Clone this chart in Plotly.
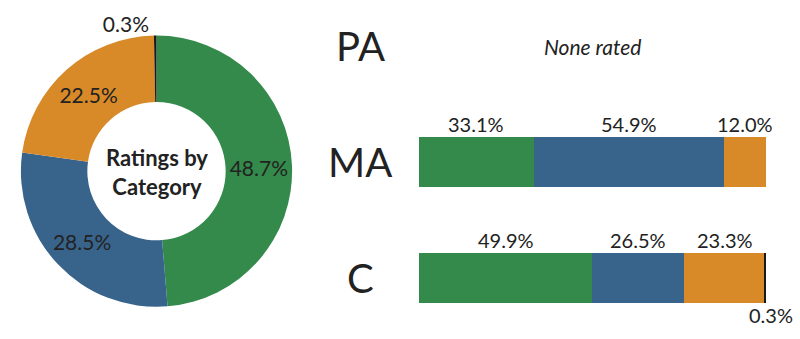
import plotly.graph_objects as go

# Overall rating shares
ratings = ["Good", "Fair", "Poor", "Failing"]
overall_share = [48.7, 28.5, 22.5, 0.3]
colors = ["#338a4a", "#38648c", "#d98a28", "#1a1a1a"]

# Per-category breakdown (PA has no rated items)
categories = ["C", "MA", "PA"]
cat_shares = {
    "C": [49.9, 26.5, 23.3, 0.3],
    "MA": [33.1, 54.9, 12.0, 0.0],
    "PA": None,
}

FONT = "Lato"
TXT = "#222222"

fig = go.Figure()

fig.add_trace(go.Pie(
    labels=ratings,
    values=overall_share,
    marker=dict(colors=colors, line=dict(width=0)),
    hole=0.51,
    sort=False,
    direction="clockwise",
    rotation=0,
    texttemplate="%{value:.1f}%",
    textposition=["inside", "inside", "inside", "outside"],
    insidetextorientation="horizontal",
    textfont=dict(family=FONT, size=21, color=TXT),
    domain=dict(x=[0.02375, 0.3675], y=[0.095, 0.895]),
    showlegend=False,
    hoverinfo="label+percent",
))

# Stacked horizontal bars per category
for i, r in enumerate(ratings):
    xs, ys = [], []
    for c in categories:
        if cat_shares[c] is not None and cat_shares[c][i] > 0:
            xs.append(cat_shares[c][i])
            ys.append(c)
    fig.add_trace(go.Bar(
        x=xs, y=ys, orientation="h", name=r,
        marker=dict(color=colors[i], line=dict(width=0)),
        width=0.431, xaxis="x", yaxis="y", showlegend=False,
    ))

annotations = [
    dict(text="<b>Ratings by<br>Category</b>", x=156.5 / 800, y=167.5 / 339,
         xref="paper", yref="paper", xanchor="center", yanchor="middle",
         showarrow=False, font=dict(family=FONT, size=22, color=TXT)),
]

for c in categories:
    annotations.append(dict(text=c, x=360 / 800, y=c, xref="paper", yref="y",
                            xanchor="center", showarrow=False,
                            font=dict(family=FONT, size=40, color=TXT)))
    shares = cat_shares[c]
    if shares is None:
        annotations.append(dict(text="<i>None rated</i>", x=50, y=c, xref="x", yref="y",
                                showarrow=False, font=dict(family=FONT, size=21, color=TXT)))
        continue
    start = 0.0
    for i, v in enumerate(shares):
        if v <= 0:
            continue
        mid = start + v / 2
        start += v
        small = v < 1
        annotations.append(dict(
            text=f"{v:.1f}%", x=mid, y=c, xref="x", yref="y", showarrow=False,
            yshift=-37 if small else 38, xshift=6 if small else 0,
            font=dict(family=FONT, size=20, color=TXT)))

fig.update_layout(
    width=800, height=339,
    margin=dict(l=0, r=0, t=0, b=0),
    paper_bgcolor="white", plot_bgcolor="white",
    barmode="stack",
    xaxis=dict(domain=[0.52375, 0.9575], range=[0, 100], visible=False, fixedrange=True),
    yaxis=dict(domain=[0, 1], type="category", categoryorder="array",
               categoryarray=categories, range=[-0.526, 2.397], visible=False),
    annotations=annotations,
)

fig.write_html("out.html")
